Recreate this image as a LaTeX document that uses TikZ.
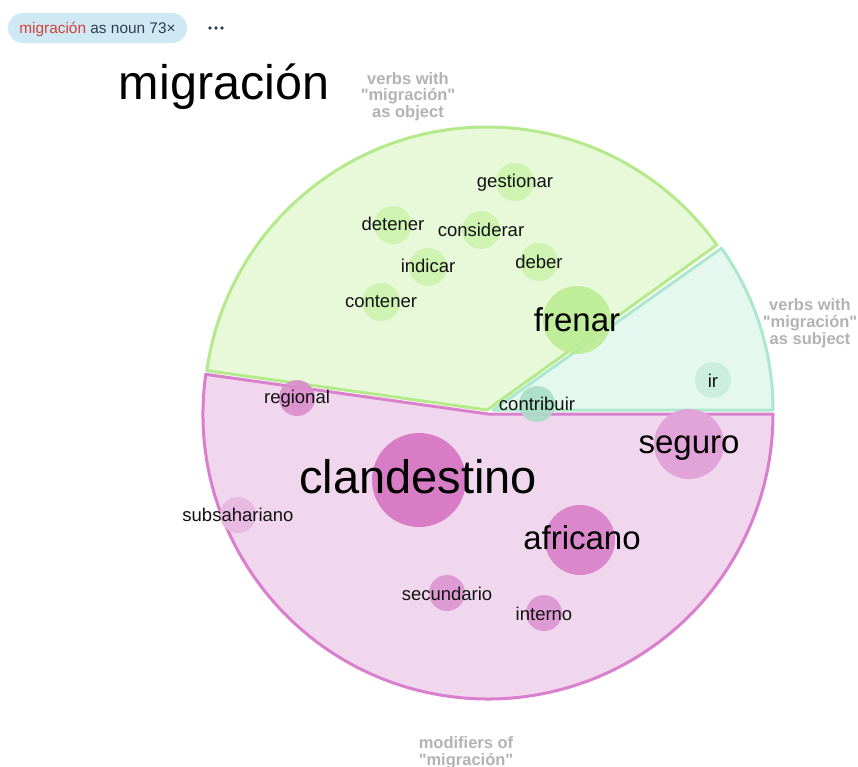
\documentclass[tikz,border=0pt]{standalone}
\usepackage{fontspec}
\setmainfont{Liberation Sans}
\newfontfamily\grpfont{Liberation Sans}
\definecolor{pinkfill}{HTML}{F0D7EE}
\definecolor{pinkline}{HTML}{DA7FCE}
\definecolor{greenfill}{HTML}{E8F9D9}
\definecolor{greenline}{HTML}{B5EA8C}
\definecolor{tealfill}{HTML}{E4F8F0}
\definecolor{tealline}{HTML}{AEE8CC}
\definecolor{gsmall}{HTML}{CFF3B0}
\definecolor{gbig}{HTML}{BCEC93}
\definecolor{tir}{HTML}{CBEEDF}
\definecolor{tcon}{HTML}{A9DDC6}
\definecolor{pclan}{HTML}{D87DC5}
\definecolor{pafr}{HTML}{DA88CB}
\definecolor{pseg}{HTML}{E2A4D8}
\definecolor{preg}{HTML}{D98DCB}
\definecolor{psub}{HTML}{E8BAE1}
\definecolor{psec}{HTML}{DE9AD3}
\definecolor{pill}{HTML}{CFE9F4}
\definecolor{hdrred}{HTML}{D0423B}
\definecolor{hdrdark}{HTML}{2C3E50}
\definecolor{grouplbl}{HTML}{B3B3B3}
\tikzset{
  bubble/.style={circle, inner sep=0pt, draw=none},
  word/.style={anchor=base, inner sep=0pt, text=black!93, font=\fontsize{18.5}{20}\selectfont},
  bigword/.style={anchor=base, inner sep=0pt, text=black, font=\fontsize{33}{36}\selectfont},
  grp/.style={anchor=base, inner sep=0pt, text=grouplbl, font=\grpfont\fontsize{16.5}{17.5}\selectfont\bfseries},
  dot/.style={circle, fill=hdrdark, inner sep=0pt, minimum size=3.6pt},
}
\begin{document}
\begin{tikzpicture}[x=1pt,y=1pt]
\useasboundingbox (0,0) rectangle (858,-766);
\fill[white] (0,0) rectangle (858,-766);
% header
\node[fill=pill, rounded corners=15pt, minimum width=179pt, minimum height=30pt, inner sep=0pt] (hdr) at (97.5,-28) {};
\node[anchor=base, inner sep=0pt, font=\fontsize{15.4}{16}\selectfont] (hdrtxt) at (97.5,-33.5) {\textcolor{hdrred}{migración} \textcolor{hdrdark}{as noun 73×}};
\node[dot] (d1) at (210,-28) {};
\node[dot] (d2) at (216,-28) {};
\node[dot] (d3) at (222,-28) {};
% title
\node[anchor=base, inner sep=0pt, font=\fontsize{48.5}{50}\selectfont] (title) at (224,-99) {migración};
% group labels
\node[grp] (lobj1) at (408,-84) {verbs with};
\node[grp] (lobj2) at (408,-100.5) {"migración"};
\node[grp] (lobj3) at (408,-117.5) {as object};
\node[grp] (lsub1) at (810,-310.5) {verbs with};
\node[grp] (lsub2) at (810,-327) {"migración"};
\node[grp] (lsub3) at (810,-344) {as subject};
\node[grp] (lmod1) at (466,-748.5) {modifiers of};
\node[grp] (lmod2) at (466,-765) {"migración"};
% sectors
\filldraw[fill=pinkfill, draw=pinkline, line width=3pt, line join=round] (488,-414) -- ++(172:285) arc[start angle=172, end angle=360, radius=285] -- cycle;
\filldraw[fill=greenfill, draw=greenline, line width=3pt, line join=round] (487,-410) -- ++(35.7:283) arc[start angle=35.7, end angle=172, radius=283] -- cycle;
\filldraw[fill=tealfill, draw=tealline, line width=3pt, line join=round] (493,-410) -- ++(0:280) arc[start angle=0, end angle=35.3, radius=280] -- cycle;
% bubbles
\node[bubble, fill=gsmall, minimum size=38pt] (bgest) at (515,-182) {};
\node[bubble, fill=gsmall, minimum size=38pt] (bdet) at (393,-225) {};
\node[bubble, fill=gsmall, minimum size=38pt] (bcons) at (481,-230) {};
\node[bubble, fill=gsmall, minimum size=38pt] (bind) at (428,-267) {};
\node[bubble, fill=gsmall, minimum size=38pt] (bdeb) at (539,-262) {};
\node[bubble, fill=gsmall, minimum size=38pt] (bcont) at (381,-302) {};
\node[bubble, fill=gbig, opacity=0.9, minimum size=68pt] (bfren) at (577,-320) {};
\node[bubble, fill=tir, minimum size=36pt] (bir) at (713,-380) {};
\node[bubble, fill=tcon, opacity=0.9, minimum size=36pt] (bcontr) at (537,-404) {};
\node[bubble, fill=preg, opacity=0.9, minimum size=36pt] (breg) at (297,-398) {};
\node[bubble, fill=pclan, minimum size=94pt] (bclan) at (419,-480) {};
\node[bubble, fill=psub, minimum size=36pt] (bsub) at (238,-515) {};
\node[bubble, fill=pseg, minimum size=70pt] (bseg) at (689,-444) {};
\node[bubble, fill=pafr, minimum size=70pt] (bafr) at (580,-540) {};
\node[bubble, fill=psec, minimum size=36pt] (bsec) at (447,-593) {};
\node[bubble, fill=psec, minimum size=36pt] (bint) at (544,-613) {};
% words
\node[word] (wgest) at (515,-187.3) {gestionar};
\node[word] (wdet) at (393,-230.7) {detener};
\node[word] (wcons) at (481,-236.7) {considerar};
\node[word] (wind) at (428,-272.7) {indicar};
\node[word] (wdeb) at (539,-268.3) {deber};
\node[word] (wcont) at (381,-307.3) {contener};
\node[bigword] (wfren) at (577,-331) {frenar};
\node[word] (wir) at (713,-387) {ir};
\node[word] (wcontr) at (537,-410) {contribuir};
\node[word] (wreg) at (297,-403.5) {regional};
\node[anchor=base, inner sep=0pt, font=\fontsize{47}{50}\selectfont] (wclan) at (418,-493) {clandestino};
\node[word] (wsub) at (238,-521) {subsahariano};
\node[bigword] (wseg) at (689,-453.5) {seguro};
\node[bigword] (wafr) at (582,-549) {africano};
\node[word] (wsec) at (447,-600) {secundario};
\node[word] (wint) at (544,-620) {interno};
\end{tikzpicture}
\end{document}
